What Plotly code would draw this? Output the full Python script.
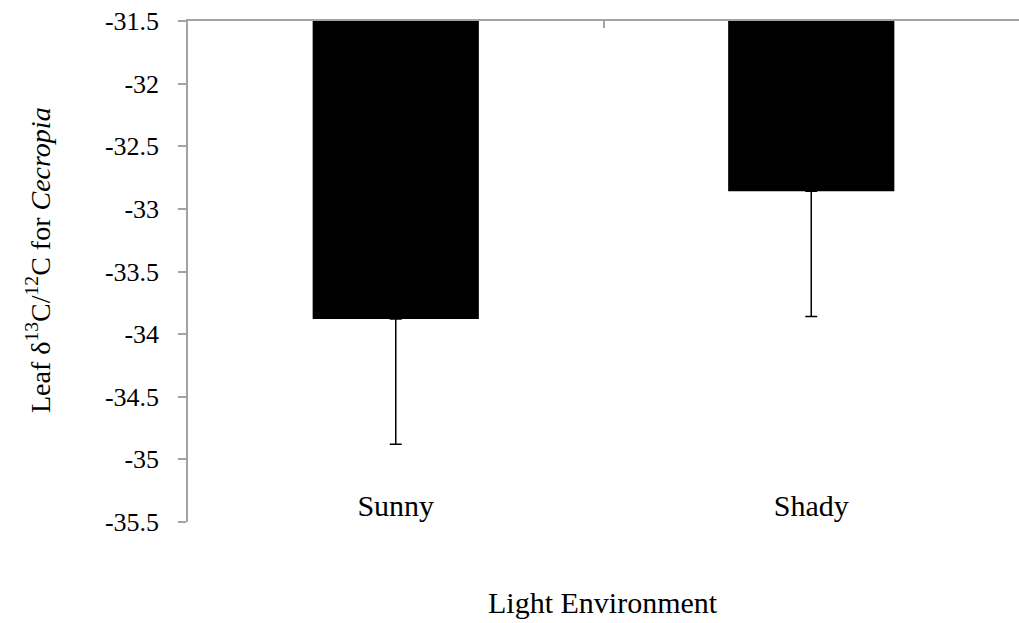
import plotly.graph_objects as go

categories = ["Sunny", "Shady"]
means = [-33.88, -32.86]
err_minus = [1.0, 1.0]
err_plus = [0.0, 0.0]
y_ticks = [-31.5, -32, -32.5, -33, -33.5, -34, -34.5, -35, -35.5]
y_tick_labels = ["-31.5", "-32", "-32.5", "-33", "-33.5", "-34", "-34.5", "-35", "-35.5"]

FONT = "Liberation Serif, Times New Roman, serif"
GRAY = "#a3a3a3"

W, H = 1019, 623
L, T, B = 188, 21, 101
plot_h = H - T - B
plot_w = W - L

fig = go.Figure()
fig.add_trace(go.Bar(
    x=categories, y=means, width=0.4,
    marker=dict(color="black", line=dict(width=0)),
    error_y=dict(type="data", symmetric=False, array=err_plus, arrayminus=err_minus,
                 color="black", thickness=1.5, width=6),
    showlegend=False, hoverinfo="skip",
))
# invisible trace so the top axis (line + boundary ticks) is drawn
fig.add_trace(go.Scatter(x=categories, y=means, xaxis="x2", mode="markers",
                         marker=dict(opacity=0), showlegend=False, hoverinfo="skip"))

fig.update_layout(
    width=W, height=H,
    margin=dict(l=L, r=0, t=T, b=B, autoexpand=False),
    paper_bgcolor="white", plot_bgcolor="white",
    font=dict(family=FONT, size=26, color="black"),
    xaxis=dict(anchor="free", position=(H - B - 485) / plot_h, side="bottom",
               showline=False, showgrid=False, ticks="", zeroline=False,
               tickfont=dict(family=FONT, size=30)),
    xaxis2=dict(overlaying="x", matches="x", side="top", anchor="y", showline=True,
                linecolor=GRAY, linewidth=1.5, ticks="inside", tickson="boundaries",
                tickcolor=GRAY, ticklen=7, tickwidth=1.5, showticklabels=False,
                showgrid=False, zeroline=False),
    yaxis=dict(range=[-35.5, -31.5], tickvals=y_ticks, ticktext=y_tick_labels,
               showline=True, linecolor=GRAY, linewidth=1.5, ticks="outside",
               tickcolor=GRAY, ticklen=8, tickwidth=1.5, showgrid=False,
               zeroline=False, ticklabelstandoff=14,
               tickfont=dict(family=FONT, size=26)),
    annotations=[
        dict(text="Light Environment", xref="paper", yref="paper",
             x=(603 - L) / plot_w, y=(H - B - 602) / plot_h,
             xanchor="center", yanchor="middle", showarrow=False,
             font=dict(family=FONT, size=30)),
        dict(text="Leaf δ<sup>13</sup>C/<sup>12</sup>C for <i>Cecropia</i>",
             xref="paper", yref="paper", x=(38 - L) / plot_w, y=(H - B - 260) / plot_h,
             textangle=-90, xanchor="center", yanchor="middle", showarrow=False,
             font=dict(family=FONT, size=28)),
    ],
)

fig.write_html("out.html", config={"displayModeBar": False},
               post_script="document.body.style.margin='0';document.body.style.overflow='hidden';")
